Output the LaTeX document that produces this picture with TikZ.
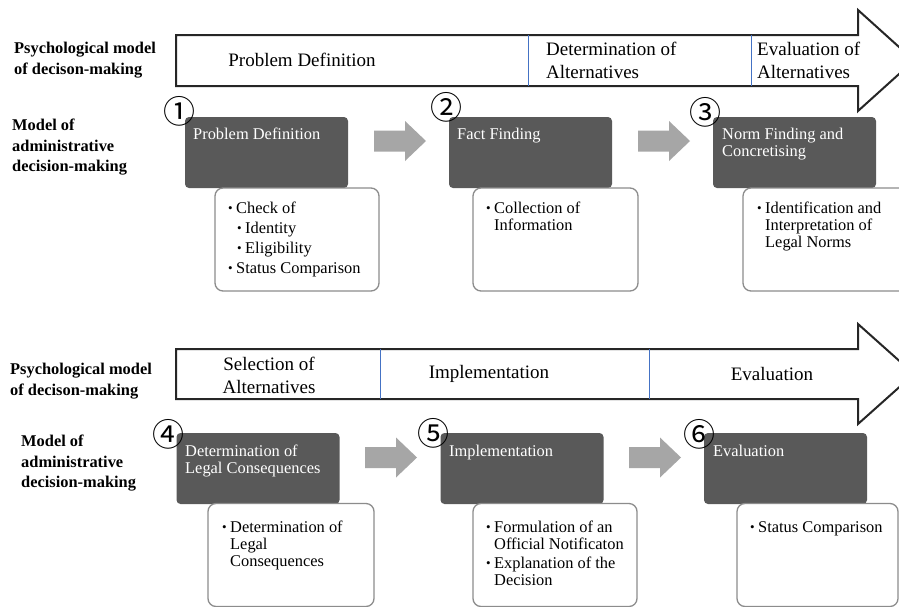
\documentclass[tikz,border=0pt]{standalone}
\usepackage{fontspec}
\setmainfont{Liberation Serif}
\newfontfamily\numfont{Noto Sans CJK SC}
\definecolor{darkbox}{HTML}{595959}
\definecolor{arrowgray}{HTML}{A6A6A6}
\definecolor{wborder}{HTML}{8C8C8C}
\definecolor{divblue}{HTML}{4472C4}
\begin{document}
\begin{tikzpicture}[x=1pt,y=-1pt,
  darkstep/.style={fill=darkbox,draw=none,rounded corners=4pt,minimum width=163pt,minimum height=71pt,inner sep=0pt},
  whitestep/.style={fill=white,draw=wborder,line width=1.3pt,rounded corners=8pt,minimum height=103pt,inner sep=0pt},
  bigarrow/.style={draw=black!85,line width=2pt,fill=white},
  divider/.style={draw=divblue,line width=0.8pt},
  toptxt/.style={font=\fontsize{19}{23}\selectfont,inner sep=0pt},
  sidetxt/.style={font=\bfseries\fontsize{16.4}{20.5}\selectfont,inner sep=0pt,anchor=north west,align=left},
  dtxt/.style={font=\fontsize{16.4}{17}\selectfont,inner sep=0pt,anchor=north west,align=left,text=white},
  wtxt/.style={font=\fontsize{16.4}{17}\selectfont,inner sep=0pt,anchor=north west,align=left},
  numtxt/.style={font=\numfont\fontsize{32}{32}\selectfont,inner sep=0pt}]
\useasboundingbox (0,0) rectangle (899,606);
\clip (0,0) rectangle (899,606);
\fill[white] (0,0) rectangle (899,606);
\newcommand{\bul}{\makebox[8pt][l]{\fontsize{13}{13}\selectfont\raisebox{1pt}{•}}}
\newcommand{\grayarr}[2]{\fill[arrowgray] (#1,#2) ++(0,-10.5) -- ++(31,0) -- ++(0,-9.5) -- ++(21,20) -- ++(-21,20) -- ++(0,-9.5) -- ++(-31,0) -- cycle;}

% ---------- TOP HALF ----------
\draw[bigarrow] (176,35) -- (858,35) -- (858,10) -- (914,60.5) -- (858,111) -- (858,86) -- (176,86) -- cycle;
\coordinate (d1t) at (528,35); \coordinate (d1b) at (528,86);
\coordinate (d2t) at (751,35); \coordinate (d2b) at (751,86);
\draw[divider] (d1t) -- (d1b);
\draw[divider] (d2t) -- (d2b);
\node[toptxt] (p1) at (302,60) {Problem Definition};
\node[toptxt,anchor=north west,align=left] (p2) at (546,42) {Determination of\\Alternatives};
\node[toptxt,anchor=north west,align=left] (p3) at (757,42) {Evaluation of\\Alternatives};

\node[sidetxt] (s1) at (14,42) {Psychological model\\of decison-making};
\node[sidetxt] (s2) at (12,119) {Model of\\administrative\\decision-making};

\node[darkstep] (b1) at (266.5,152.5) {};
\node[darkstep] (b2) at (530.5,152.5) {};
\node[darkstep] (b3) at (794.5,152.5) {};
\node[whitestep,minimum width=164pt] (w1) at (297,239.5) {};
\node[whitestep,minimum width=165pt] (w2) at (555.5,239.5) {};
\node[whitestep,minimum width=164pt] (w3) at (825,239.5) {};

\grayarr{374}{141}
\grayarr{638}{141}

\node[numtxt] (n1) at (179,111) {①};
\node[numtxt] (n2) at (446,107) {②};
\node[numtxt] (n3) at (705,112) {③};

\node[dtxt] (t1) at (193,128) {Problem Definition};
\node[dtxt] (t2) at (457,128) {Fact Finding};
\node[dtxt] (t3) at (722,128) {Norm Finding and\\Concretising};

\node[wtxt] (l1) at (228,202) {\bul Check of\\[3pt]\hspace*{9pt}\bul Identity\\[3pt]\hspace*{9pt}\bul Eligibility\\[3pt]\bul Status Comparison};
\node[wtxt] (l2) at (486,202) {\bul Collection of\\\hspace*{8pt}Information};
\node[wtxt] (l3) at (757,202) {\bul Identification and\\\hspace*{8pt}Interpretation of\\\hspace*{8pt}Legal Norms};

% ---------- BOTTOM HALF ----------
\draw[bigarrow] (176,349) -- (858,349) -- (858,324) -- (914,374) -- (858,424) -- (858,399) -- (176,399) -- cycle;
\coordinate (d3t) at (380,349); \coordinate (d3b) at (380,399);
\coordinate (d4t) at (649,349); \coordinate (d4b) at (649,399);
\draw[divider] (d3t) -- (d3b);
\draw[divider] (d4t) -- (d4b);
\node[toptxt,anchor=north,align=center] (p4) at (269,357) {Selection of\\Alternatives};
\node[toptxt] (p5) at (489,374) {Implementation};
\node[toptxt] (p6) at (772,374) {Evaluation};

\node[sidetxt] (s3) at (10,363) {Psychological model\\of decison-making};
\node[sidetxt] (s4) at (21,435) {Model of\\administrative\\decision-making};

\node[darkstep] (b4) at (258,468.5) {};
\node[darkstep] (b5) at (522,468.5) {};
\node[darkstep] (b6) at (785.5,468.5) {};
\node[whitestep,minimum width=166pt] (w4) at (291,555) {};
\node[whitestep,minimum width=164pt] (w5) at (555,555) {};
\node[whitestep,minimum width=161pt] (w6) at (817.5,555) {};

\grayarr{365}{457.5}
\grayarr{629}{457.5}

\node[numtxt] (n4) at (168,434) {④};
\node[numtxt] (n5) at (433,433) {⑤};
\node[numtxt] (n6) at (699,434) {⑥};

\node[dtxt] (t4) at (185,445) {Determination of\\Legal Consequences};
\node[dtxt] (t5) at (449,445) {Implementation};
\node[dtxt] (t6) at (713,445) {Evaluation};

\node[wtxt] (l4) at (222,521) {\bul Determination of\\\hspace*{8pt}Legal\\\hspace*{8pt}Consequences};
\node[wtxt] (l5) at (486,521) {\bul Formulation of an\\\hspace*{8pt}Official Notificaton\\[2pt]\bul Explanation of the\\\hspace*{8pt}Decision};
\node[wtxt] (l6) at (750,521) {\bul Status Comparison};
\end{tikzpicture}
\end{document}
